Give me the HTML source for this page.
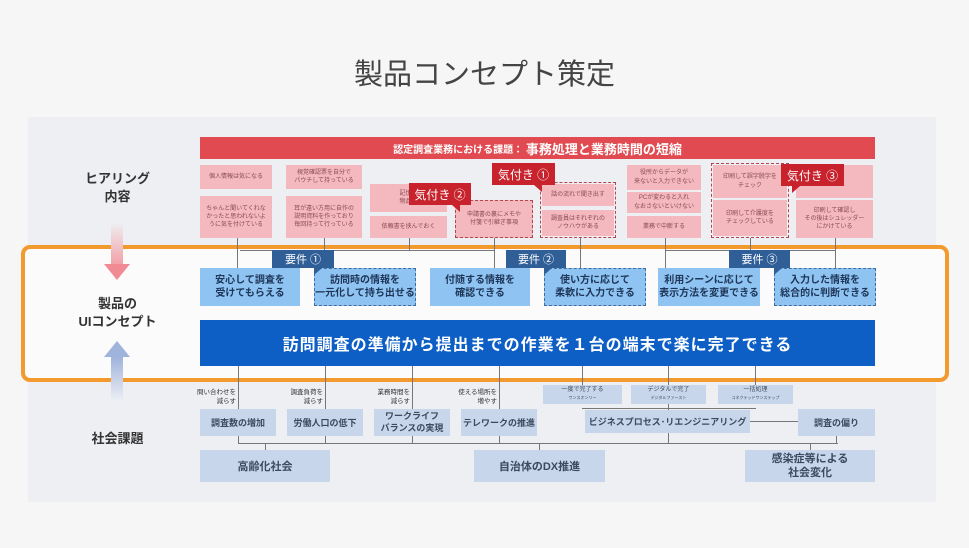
<!DOCTYPE html>
<html><head><meta charset="utf-8"><style>
*{margin:0;padding:0;box-sizing:border-box}
body{width:969px;height:548px;background:#f6f6f7;position:relative;overflow:hidden;font-family:"Liberation Sans","Noto Sans CJK JP",sans-serif;color:#333}
.a{position:absolute}
.c{display:flex;align-items:center;justify-content:center;text-align:center}
.p{background:#f3b9be;color:#8a4a50;font-size:6px;line-height:1.35}
.dp{border:1.3px dashed #b5464f}
.lb{background:#8fc3f2;color:#1d3557;font-size:10px;line-height:1.3;font-weight:bold}
.db{border:1.3px dashed #3f6e9e}
.g{background:#c7d6ea;color:#3b4a5e;font-weight:bold}
.k{background:#c8222c;color:#fff;font-size:12px}
.y{background:#2f5f96;color:#fff;font-size:11px}
.ln{background:#777}
</style></head><body>
<div class="a c" style="left:0;width:969px;top:52px;height:40px;font-size:29px;color:#444">製品コンセプト策定</div>
<div class="a" style="left:28px;top:117px;width:908px;height:385px;background:#eeeff3"></div>
<div class="a" style="left:21px;top:245px;width:928px;height:137px;background:#fbfbfc;border:4px solid #f29a2e;border-radius:9px"></div>
<div class="a c" style="left:70px;top:168px;width:95px;height:40px;font-size:13px;font-weight:bold;line-height:1.35">ヒアリング<br>内容</div>
<div class="a c" style="left:65px;top:293px;width:105px;height:40px;font-size:13px;font-weight:bold;line-height:1.35">製品の<br>UIコンセプト</div>
<div class="a c" style="left:70px;top:427px;width:95px;height:20px;font-size:13px;font-weight:bold">社会課題</div>
<div class="a" style="left:111px;top:222px;width:12px;height:42px;background:linear-gradient(#eef0f4,#f2a2a8)"></div>
<div class="a" style="left:104px;top:264px;width:0;height:0;border-left:13px solid transparent;border-right:13px solid transparent;border-top:16px solid #f08a93"></div>
<div class="a" style="left:104px;top:341px;width:0;height:0;border-left:13px solid transparent;border-right:13px solid transparent;border-bottom:16px solid #9fb3db"></div>
<div class="a" style="left:111px;top:357px;width:12px;height:45px;background:linear-gradient(#9fb3db,#eef0f4)"></div>
<div class="a c" style="left:200px;top:137px;width:675px;height:22px;background:#e04a50;color:#fff;font-size:10px;font-weight:bold">認定調査業務における課題：&nbsp;<span style="font-size:13px">事務処理と業務時間の短縮</span></div>
<div class="a c p" style="left:200px;top:165px;width:72px;height:24px">個人情報は気になる</div>
<div class="a c p" style="left:200px;top:196px;width:72px;height:42px">ちゃんと聞いてくれな<br>かったと思われないよ<br>うに気を付けている</div>
<div class="a c p" style="left:286px;top:165px;width:76px;height:24px">視覚確認票を自分で<br>パウチして持っている</div>
<div class="a c p" style="left:286px;top:196px;width:76px;height:42px">耳が遠い方用に自作の<br>説明資料を作っており<br>毎回持って行っている</div>
<div class="a c p" style="left:370px;top:184px;width:77px;height:28px">記憶デ<br>物品を</div>
<div class="a c p" style="left:370px;top:216px;width:77px;height:22px">依頼書を挟んでおく</div>
<div class="a c p dp" style="left:455px;top:200px;width:78px;height:38px">申請書の裏にメモや<br>付箋で引継ぎ事項</div>
<div class="a dp" style="left:540px;top:182px;width:76px;height:56px"></div>
<div class="a c p" style="left:542px;top:184px;width:72px;height:22px">話の流れで聞き出す</div>
<div class="a c p" style="left:542px;top:210px;width:72px;height:26px">調査員はそれぞれの<br>ノウハウがある</div>
<div class="a c p" style="left:627px;top:165px;width:74px;height:25px">役所からデータが<br>来ないと入力できない</div>
<div class="a c p" style="left:627px;top:192px;width:74px;height:21px">PCが変わると入れ<br>なおさないといけない</div>
<div class="a c p" style="left:627px;top:216px;width:74px;height:22px">業務で中断する</div>
<div class="a dp" style="left:711px;top:163px;width:78px;height:75px"></div>
<div class="a c p" style="left:713px;top:165px;width:74px;height:33px">印刷して誤字脱字を<br>チェック</div>
<div class="a c p" style="left:713px;top:200px;width:74px;height:36px">印刷して介護度を<br>チェックしている</div>
<div class="a c p" style="left:796px;top:165px;width:77px;height:33px">で</div>
<div class="a c p" style="left:796px;top:200px;width:77px;height:38px">印刷して確認し<br>その後はシュレッダー<br>にかけている</div>
<div class="a c k" style="left:409px;top:183px;width:62px;height:22px">気付き ②</div>
<div class="a" style="left:452px;top:205px;border-left:8px solid transparent;border-top:7px solid #c8222c"></div>
<div class="a c k" style="left:492px;top:163px;width:63px;height:22px">気付き ①</div>
<div class="a" style="left:534px;top:185px;border-left:8px solid transparent;border-top:7px solid #c8222c"></div>
<div class="a c k" style="left:781px;top:164px;width:63px;height:22px">気付き ③</div>
<div class="a" style="left:792px;top:186px;border-right:8px solid transparent;border-top:7px solid #c8222c"></div>
<div class="a ln" style="left:237px;top:238px;width:1px;height:30px"></div>
<div class="a ln" style="left:324px;top:238px;width:1px;height:30px"></div>
<div class="a ln" style="left:409px;top:238px;width:1px;height:12px"></div>
<div class="a ln" style="left:494px;top:238px;width:1px;height:30px"></div>
<div class="a ln" style="left:580px;top:238px;width:1px;height:30px"></div>
<div class="a ln" style="left:665px;top:238px;width:1px;height:30px"></div>
<div class="a ln" style="left:750px;top:238px;width:1px;height:12px"></div>
<div class="a ln" style="left:835px;top:238px;width:1px;height:30px"></div>
<div class="a ln" style="left:240px;top:250px;width:255px;height:1px"></div>
<div class="a ln" style="left:665px;top:250px;width:170px;height:1px"></div>
<div class="a c lb" style="left:200px;top:268px;width:100px;height:38px">安心して調査を<br>受けてもらえる</div>
<div class="a c lb db" style="left:314px;top:268px;width:102px;height:38px">訪問時の情報を<br>一元化して持ち出せる</div>
<div class="a c lb" style="left:430px;top:268px;width:100px;height:38px">付随する情報を<br>確認できる</div>
<div class="a c lb db" style="left:544px;top:268px;width:102px;height:38px">使い方に応じて<br>柔軟に入力できる</div>
<div class="a c lb" style="left:658px;top:268px;width:102px;height:38px">利用シーンに応じて<br>表示方法を変更できる</div>
<div class="a c lb db" style="left:774px;top:268px;width:102px;height:38px">入力した情報を<br>総合的に判断できる</div>
<div class="a c y" style="left:272px;top:250px;width:62px;height:18px">要件 ①</div>
<div class="a" style="left:314px;top:268px;border-left:8px solid #2f5f96;border-bottom:7px solid transparent"></div>
<div class="a c y" style="left:506px;top:250px;width:60px;height:18px">要件 ②</div>
<div class="a" style="left:544px;top:268px;border-left:8px solid #2f5f96;border-bottom:7px solid transparent"></div>
<div class="a c y" style="left:729px;top:250px;width:61px;height:18px">要件 ③</div>
<div class="a" style="left:774px;top:268px;border-left:8px solid #2f5f96;border-bottom:7px solid transparent"></div>
<div class="a c" style="left:200px;top:320px;width:675px;height:46px;background:#0d5fc6;color:#fff;font-size:16px;font-weight:bold;letter-spacing:1px">訪問調査の準備から提出までの作業を１台の端末で楽に完了できる</div>
<div class="a ln" style="left:238px;top:366px;width:1px;height:43px"></div>
<div class="a ln" style="left:325px;top:366px;width:1px;height:43px"></div>
<div class="a ln" style="left:412px;top:366px;width:1px;height:43px"></div>
<div class="a ln" style="left:499px;top:366px;width:1px;height:43px"></div>
<div class="a ln" style="left:582px;top:366px;width:1px;height:19px"></div>
<div class="a ln" style="left:668px;top:366px;width:1px;height:19px"></div>
<div class="a ln" style="left:755px;top:366px;width:1px;height:19px"></div>
<div class="a c" style="left:186px;top:386px;width:50px;height:22px;font-size:6.5px;line-height:1.4;text-align:right;justify-content:flex-end">問い合わせを<br>減らす</div>
<div class="a c" style="left:275px;top:386px;width:48px;height:22px;font-size:6.5px;line-height:1.4;justify-content:flex-end;text-align:right">調査負荷を<br>減らす</div>
<div class="a c" style="left:362px;top:386px;width:48px;height:22px;font-size:6.5px;line-height:1.4;justify-content:flex-end;text-align:right">業務時間を<br>減らす</div>
<div class="a c" style="left:445px;top:386px;width:52px;height:22px;font-size:6.5px;line-height:1.4;justify-content:flex-end;text-align:right">使える場所を<br>増やす</div>
<div class="a c g" style="left:543px;top:385px;width:79px;height:19px;font-size:6px;line-height:1.3;font-weight:normal"><div>一度で完了する<br><span style="font-size:4px">ワンスオンリー</span></div></div>
<div class="a c g" style="left:631px;top:385px;width:75px;height:19px;font-size:6px;line-height:1.3;font-weight:normal"><div>デジタルで完了<br><span style="font-size:4px">デジタルファースト</span></div></div>
<div class="a c g" style="left:718px;top:385px;width:75px;height:19px;font-size:6px;line-height:1.3;font-weight:normal"><div>一括処理<br><span style="font-size:4px">コネクテッドワンステップ</span></div></div>
<div class="a ln" style="left:582px;top:408px;width:174px;height:1px"></div>
<div class="a ln" style="left:668px;top:404px;width:1px;height:6px"></div>
<div class="a c g" style="left:200px;top:409px;width:76px;height:27px;font-size:9px">調査数の増加</div>
<div class="a c g" style="left:287px;top:409px;width:76px;height:27px;font-size:9px">労働人口の低下</div>
<div class="a c g" style="left:374px;top:409px;width:76px;height:27px;font-size:9px;line-height:1.3">ワークライフ<br>バランスの実現</div>
<div class="a c g" style="left:461px;top:409px;width:76px;height:27px;font-size:9px">テレワークの推進</div>
<div class="a c g" style="left:585px;top:410px;width:165px;height:23px;font-size:9px">ビジネスプロセス･リエンジニアリング</div>
<div class="a ln" style="left:750px;top:421px;width:48px;height:1px"></div>
<div class="a c g" style="left:798px;top:409px;width:77px;height:27px;font-size:9px">調査の偏り</div>
<div class="a ln" style="left:238px;top:436px;width:1px;height:8px"></div>
<div class="a ln" style="left:325px;top:436px;width:1px;height:8px"></div>
<div class="a ln" style="left:412px;top:436px;width:1px;height:8px"></div>
<div class="a ln" style="left:499px;top:436px;width:1px;height:8px"></div>
<div class="a ln" style="left:668px;top:433px;width:1px;height:11px"></div>
<div class="a ln" style="left:836px;top:436px;width:1px;height:8px"></div>
<div class="a ln" style="left:238px;top:443px;width:600px;height:1px"></div>
<div class="a ln" style="left:265px;top:443px;width:1px;height:7px"></div>
<div class="a ln" style="left:539px;top:443px;width:1px;height:7px"></div>
<div class="a ln" style="left:810px;top:443px;width:1px;height:7px"></div>
<div class="a c g" style="left:200px;top:450px;width:130px;height:32px;font-size:11px">高齢化社会</div>
<div class="a c g" style="left:474px;top:450px;width:131px;height:32px;font-size:11px">自治体のDX推進</div>
<div class="a c g" style="left:745px;top:450px;width:130px;height:32px;font-size:11px;line-height:1.3">感染症等による<br>社会変化</div>
</body></html>
